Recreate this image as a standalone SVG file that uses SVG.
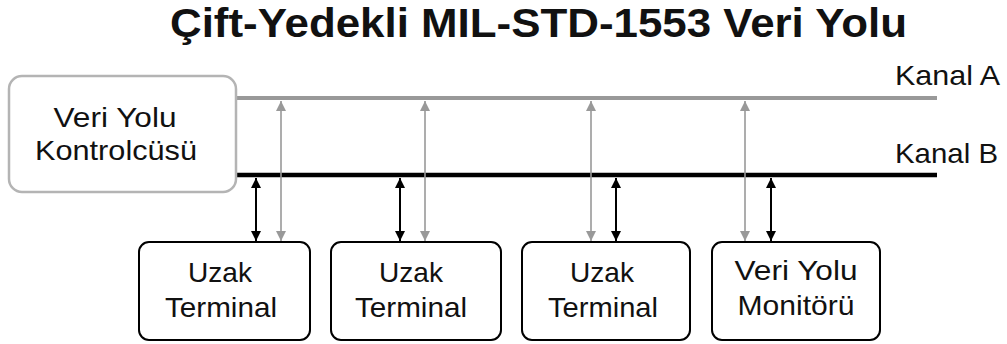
<svg xmlns="http://www.w3.org/2000/svg" width="1007" height="344" viewBox="0 0 1007 344">
  <defs>
    <marker id="headBlack" viewBox="0 0 10 10" refX="10" refY="5" markerWidth="10" markerHeight="10" markerUnits="userSpaceOnUse" orient="auto-start-reverse">
      <path d="M0,0 L10,5 L0,10 Z" fill="#000"/>
    </marker>
    <marker id="headGray" viewBox="0 0 10 10" refX="10" refY="5" markerWidth="10" markerHeight="10" markerUnits="userSpaceOnUse" orient="auto-start-reverse">
      <path d="M0,0 L10,5 L0,10 Z" fill="#999"/>
    </marker>
  </defs>
  <style>
    text { font-family: "Liberation Sans", Arial, sans-serif; fill: #111; }
    .title { font-family: "Liberation Sans Narrow", "Liberation Sans", Arial, sans-serif; font-weight: bold; font-size: 41px; }
    .lbl { font-size: 28px; text-anchor: middle; }
    .chan { font-size: 28px; }
    .node { fill: #fff; stroke: #000; stroke-width: 2; }
    .ctrl { fill: #fff; stroke: #b4b4b4; stroke-width: 2.5; }
    .busA { stroke: #999; stroke-width: 4; }
    .busB { stroke: #000; stroke-width: 4.5; }
    .linkA { stroke: #999; stroke-width: 1.6; marker-start: url(#headGray); marker-end: url(#headGray); }
    .linkB { stroke: #000; stroke-width: 2; marker-start: url(#headBlack); marker-end: url(#headBlack); }
  </style>

  <rect width="1007" height="344" fill="#fff"/>

  <text class="title" x="170" y="37" textLength="737" lengthAdjust="spacingAndGlyphs">Çift-Yedekli MIL-STD-1553 Veri Yolu</text>

  <!-- buses and stubs -->
  <g id="connectors">
    <line class="busA" x1="236" y1="98" x2="937" y2="98"/>
    <line class="busB" x1="236" y1="175" x2="937" y2="175"/>
    <text class="chan" x="895" y="85" textLength="105" lengthAdjust="spacingAndGlyphs">Kanal A</text>
    <text class="chan" x="895" y="163" textLength="103" lengthAdjust="spacingAndGlyphs">Kanal B</text>

    <line class="linkB" x1="256" y1="178" x2="256" y2="241"/>
    <line class="linkA" x1="281" y1="101" x2="281" y2="241"/>

    <line class="linkB" x1="400" y1="178" x2="400" y2="241"/>
    <line class="linkA" x1="425" y1="101" x2="425" y2="241"/>

    <line class="linkA" x1="591" y1="101" x2="591" y2="241"/>
    <line class="linkB" x1="616" y1="178" x2="616" y2="241"/>

    <line class="linkA" x1="745" y1="101" x2="745" y2="241"/>
    <line class="linkB" x1="771" y1="178" x2="771" y2="241"/>
  </g>

  <g id="bus-controller">
    <rect class="ctrl" x="9" y="76" width="227" height="116" rx="13"/>
    <text class="lbl" x="115" y="127" textLength="123" lengthAdjust="spacingAndGlyphs">Veri Yolu</text>
    <text class="lbl" x="116" y="160" textLength="162" lengthAdjust="spacingAndGlyphs">Kontrolcüsü</text>
  </g>

  <g id="rt1">
    <rect class="node" x="139" y="242" width="171" height="98" rx="10"/>
    <text class="lbl" x="220" y="282" textLength="64" lengthAdjust="spacingAndGlyphs">Uzak</text>
    <text class="lbl" x="221" y="317" textLength="112" lengthAdjust="spacingAndGlyphs">Terminal</text>
  </g>

  <g id="rt2">
    <rect class="node" x="331" y="242" width="170" height="98" rx="10"/>
    <text class="lbl" x="411" y="282" textLength="64" lengthAdjust="spacingAndGlyphs">Uzak</text>
    <text class="lbl" x="411" y="317" textLength="112" lengthAdjust="spacingAndGlyphs">Terminal</text>
  </g>

  <g id="rt3">
    <rect class="node" x="522" y="242" width="168" height="98" rx="10"/>
    <text class="lbl" x="602" y="282" textLength="64" lengthAdjust="spacingAndGlyphs">Uzak</text>
    <text class="lbl" x="603" y="317" textLength="110" lengthAdjust="spacingAndGlyphs">Terminal</text>
  </g>

  <g id="bus-monitor">
    <rect class="node" x="712" y="242" width="168" height="98" rx="10"/>
    <text class="lbl" x="796" y="280" textLength="123" lengthAdjust="spacingAndGlyphs">Veri Yolu</text>
    <text class="lbl" x="796" y="315" textLength="117" lengthAdjust="spacingAndGlyphs">Monitörü</text>
  </g>
</svg>
